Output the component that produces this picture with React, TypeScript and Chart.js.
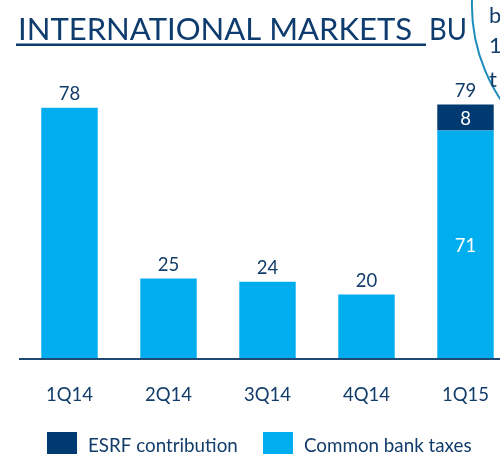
import React, { useEffect, useRef } from "react";
import { Chart, registerables } from "chart.js";

Chart.register(...registerables);

const categories = ["1Q14", "2Q14", "3Q14", "4Q14", "1Q15"];
const commonBankTaxes = [78, 25, 24, 20, 71];
const esrfContribution = [null, null, null, null, 8];
const totals = [78, 25, 24, 20, 79];
const titleMain = "INTERNATIONAL MARKETS";
const titleTail = "BU";
const calloutFragments = ["b", "1", "t"];

const LIGHT = "#00AEEF";
const DARK = "#003A70";
const TEXT = "#123D6A";
const FONT = "Lato, 'Open Sans', sans-serif";

function fitText(ctx: CanvasRenderingContext2D, t: string, x0: number, x1: number, y: number) {
  const w = ctx.measureText(t).width;
  ctx.save();
  ctx.translate(x0, y);
  ctx.scale((x1 - x0) / w, 1);
  ctx.textAlign = "left";
  ctx.fillText(t, 0, 0);
  ctx.restore();
}

const overlayPlugin = {
  id: "overlay",
  afterDatasetsDraw(chart: any) {
    const ctx = chart.ctx as CanvasRenderingContext2D;
    const xs = chart.scales.x;
    const ys = chart.scales.y;
    const base = ys.getPixelForValue(0);
    ctx.save();

    // axis line
    ctx.fillStyle = "#1F4872";
    ctx.fillRect(19, base - 1, chart.width - 19, 2);

    // value labels
    ctx.font = `18.5px ${FONT}`;
    ctx.textAlign = "center";
    ctx.textBaseline = "alphabetic";
    categories.forEach((c, i) => {
      const cx = xs.getPixelForValue(i);
      const top = ys.getPixelForValue(totals[i]);
      ctx.fillStyle = TEXT;
      ctx.fillText(String(totals[i]), cx, top - 8);
      const e = esrfContribution[i];
      if (e) {
        const c0 = commonBankTaxes[i];
        ctx.fillStyle = "#ffffff";
        const ym = ys.getPixelForValue(c0 + e / 2);
        ctx.fillText(String(e), cx, ym + 7);
        const ym2 = ys.getPixelForValue(c0 / 2);
        ctx.fillText(String(c0), cx, ym2 + 7);
      }
      // category labels
      ctx.fillStyle = TEXT;
      ctx.fillText(c, cx, base + 42);
    });

    // legend
    ctx.font = `18.8px ${FONT}`;
    ctx.textAlign = "left";
    const legendItems = [
      { label: "ESRF contribution", color: DARK, x: 47 },
      { label: "Common bank taxes", color: LIGHT, x: 263 },
    ];
    legendItems.forEach((it) => {
      ctx.fillStyle = it.color;
      ctx.fillRect(it.x, 432, 30, 30);
      ctx.fillStyle = TEXT;
      ctx.fillText(it.label, it.x + 41, 452);
    });

    // title
    ctx.font = `31px ${FONT}`;
    ctx.fillStyle = "#0E3C6E";
    fitText(ctx, titleMain, 18, 412, 39.5);
    fitText(ctx, titleTail, 429, 467, 39.5);
    ctx.fillRect(16, 43.5, 410, 2.5);

    // callout bubble (partially visible)
    ctx.strokeStyle = "#1E8DBE";
    ctx.lineWidth = 2;
    ctx.beginPath();
    ctx.arc(642, 5, 170, Math.PI * 1.05, Math.PI * 0.7, true);
    ctx.stroke();
    ctx.font = `22px ${FONT}`;
    ctx.fillStyle = TEXT;
    const baselines = [23, 53, 87];
    calloutFragments.forEach((t, i) => ctx.fillText(t, 489, baselines[i]));

    ctx.restore();
  },
};

export default function App() {
  const ref = useRef<HTMLCanvasElement | null>(null);
  useEffect(() => {
    if (!ref.current) return;
    const chart = new Chart(ref.current, {
      type: "bar",
      data: {
        labels: categories,
        datasets: [
          {
            label: "Common bank taxes",
            data: commonBankTaxes,
            backgroundColor: LIGHT,
            stack: "s",
          },
          {
            label: "ESRF contribution",
            data: esrfContribution as any,
            backgroundColor: DARK,
            stack: "s",
          },
        ],
      },
      options: {
        responsive: false,
        animation: false,
        devicePixelRatio: 1,
        layout: { padding: { left: 20, right: 15, top: 37, bottom: 95 } },
        datasets: { bar: { categoryPercentage: 0.57, barPercentage: 1 } },
        scales: {
          x: { display: false, stacked: true },
          y: { display: false, stacked: true, min: 0, max: 100 },
        },
        plugins: { legend: { display: false }, tooltip: { enabled: false } },
      },
      plugins: [overlayPlugin],
    });
    return () => chart.destroy();
  }, []);
  return (
    <div
      style={{
        position: "fixed",
        left: 0,
        top: 0,
        width: 500,
        height: 454,
        overflow: "hidden",
        background: "#fff",
      }}
    >
      <canvas ref={ref} width={530} height={454} style={{ width: 530, height: 454 }} />
    </div>
  );
}
